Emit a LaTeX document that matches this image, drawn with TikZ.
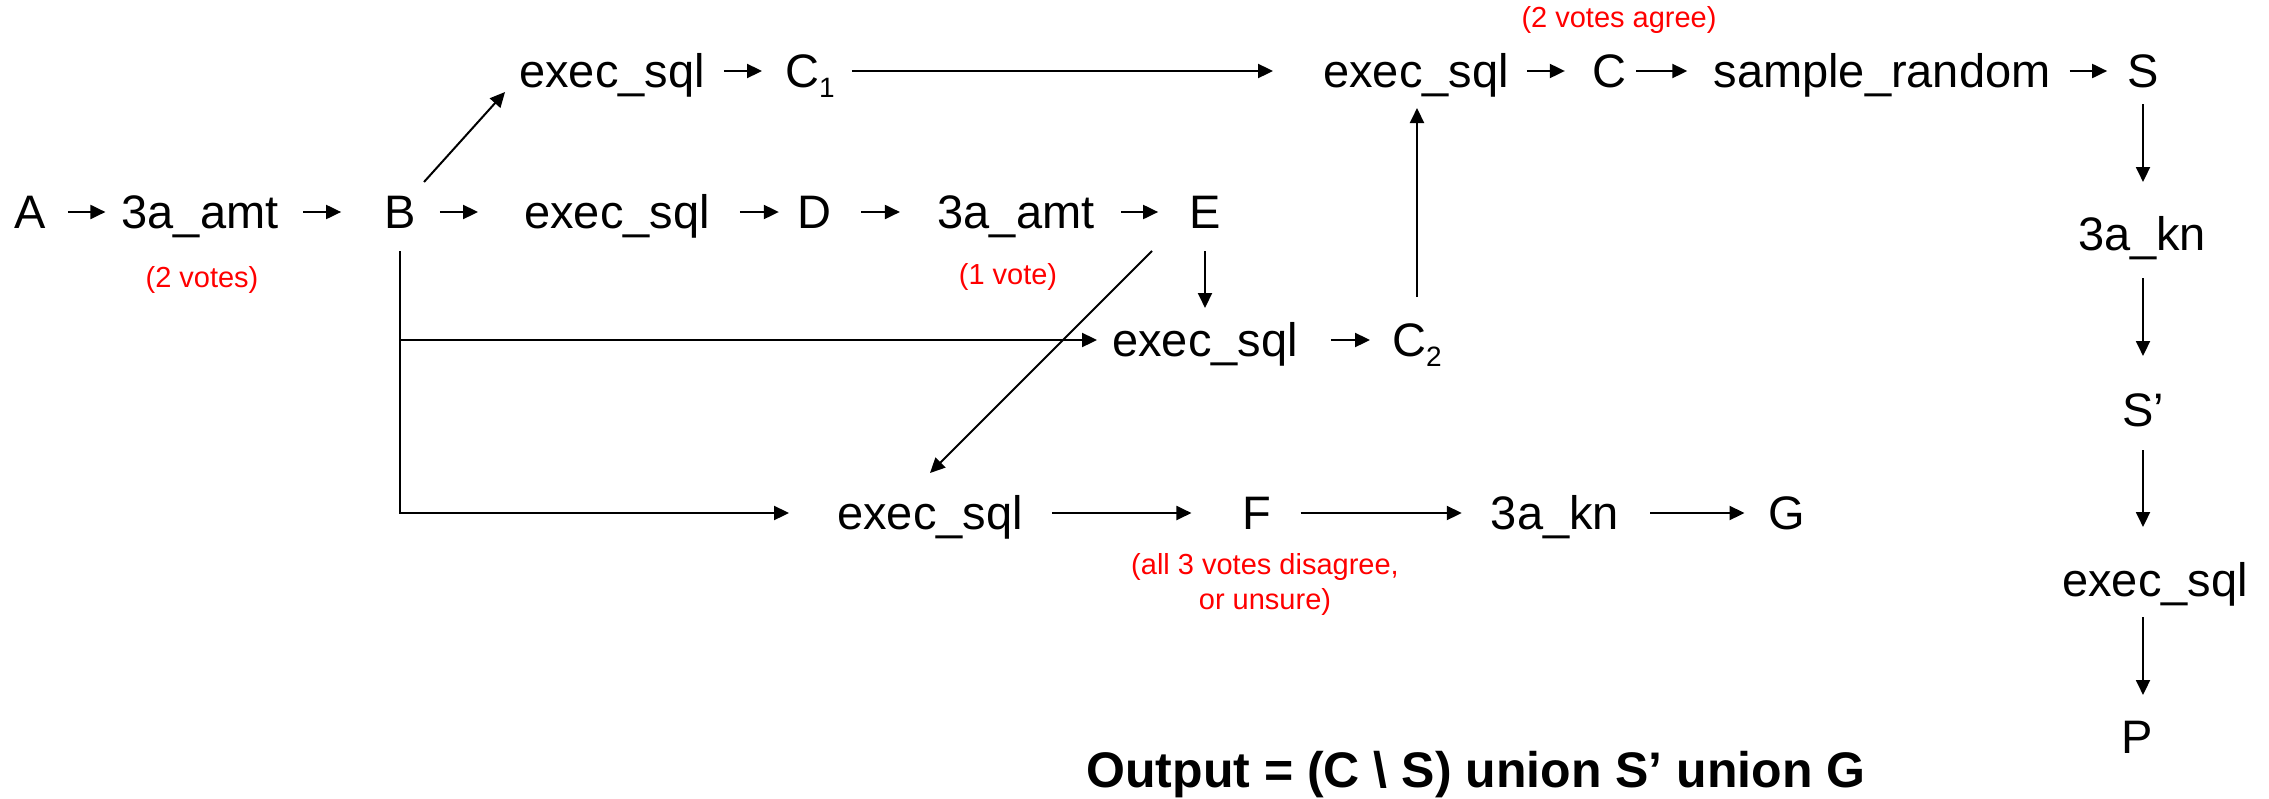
\documentclass[tikz,border=0pt]{standalone}
\usepackage{fontspec}
\setmainfont{Liberation Sans}
\usetikzlibrary{arrows.meta,calc}
\newcommand\subidx[1]{\raisebox{-10pt}{\fontsize{28}{28}\selectfont #1}}
\begin{document}
\begin{tikzpicture}[x=1pt,y=-1pt,
  lbl/.style={font=\fontsize{47}{56}\selectfont, inner sep=0pt, text height=33.6pt, text depth=0pt},
  note/.style={font=\fontsize{29}{35}\selectfont, text=red, inner sep=0pt, align=center},
  arr/.style={draw=black, line width=2pt, -{Triangle[length=15pt,width=14pt]}},
  ln/.style={draw=black, line width=2pt}]
\useasboundingbox (0,0) rectangle (2269,798);

% row 1
\node[lbl] (A) at (30,212) {A};
\node[lbl] (amtA) at (200,212) {3a\_amt};
\node[lbl] (B) at (400,212) {B};
\node[lbl] (exD) at (617,212) {exec\_sql};
\node[lbl] (D) at (814,212) {D};
\node[lbl] (amtE) at (1016,212) {3a\_amt};
\node[lbl] (E) at (1205,212) {E};
% top row
\node[lbl] (exC1) at (612,71) {exec\_sql};
\node[lbl] (C1) at (810,71) {C\subidx{1}};
\node[lbl] (exC) at (1416,71) {exec\_sql};
\node[lbl] (C) at (1609,71) {C};
\node[lbl] (samp) at (1882,71) {sample\_random};
\node[lbl] (S) at (2143,71) {S};
% right column
\node[lbl] (knS) at (2142,234) {3a\_kn};
\node[lbl] (Sp) at (2143,410) {S’};
\node[lbl] (exP) at (2155,580) {exec\_sql};
\node[lbl] (P) at (2137,737) {P};
% row 3
\node[lbl] (exC2) at (1205,340) {exec\_sql};
\node[lbl] (C2) at (1417,340) {C\subidx{2}};
% row 4
\node[lbl] (exF) at (930,513) {exec\_sql};
\node[lbl] (F) at (1257,513) {F};
\node[lbl] (knG) at (1555,513) {3a\_kn};
\node[lbl] (G) at (1787,513) {G};

% notes
\node[note] (n1) at (202,280) {(2 votes)};
\node[note] (n2) at (1008,277) {(1 vote)};
\node[note] (n3) at (1619,20) {(2 votes agree)};
\node[note] (n4) at (1265,584) {(all 3 votes disagree,\\or unsure)};

\node[font=\fontsize{50}{60}\selectfont\bfseries, inner sep=0pt, text height=35.8pt, text depth=0pt] (out) at (1476,770) {Output = (C \textbackslash{} S) union S’ union G};

% row 1 arrows
\draw[arr, shorten <=22pt, shorten >=16pt] (A.east) -- (amtA.west);
\draw[arr, shorten <=24.5pt, shorten >=43pt] (amtA.east) -- (B.west);
\draw[arr, shorten <=24pt, shorten >=46pt] (B.east) -- (exD.west);
\draw[arr, shorten <=30pt, shorten >=18pt] (exD.east) -- (D.west);
\draw[arr, shorten <=30pt, shorten >=37.5pt] (D.east) -- (amtE.west);
\draw[arr, shorten <=26.5pt, shorten >=31pt] (amtE.east) -- (E.west);
% top row arrows
\draw[arr] ([xshift=24pt,yshift=13pt]B.north) -- ([xshift=-14pt,yshift=-21pt]exC1.west);
\draw[arr, shorten <=19pt, shorten >=23pt] (exC1.east) -- (C1.west);
\draw[arr, shorten <=17pt, shorten >=50pt] (C1.east) -- (exC.west);
\draw[arr, shorten <=18pt, shorten >=27pt] (exC.east) -- (C.west);
\draw[arr, shorten <=10pt, shorten >=26pt] (C.east) -- (samp.west);
\draw[arr, shorten <=19pt, shorten >=20pt] (samp.east) -- (S.west);
% right column arrows
\draw[arr, shorten <=16pt, shorten >=35pt] (S.south) -- (S.south |- knS.north);
\draw[arr, shorten <=27pt, shorten >=37pt] (S.south |- knS.south) -- (S.south |- Sp.north);
\draw[arr, shorten <=23pt, shorten >=36pt] (S.south |- Sp.south) -- (S.south |- exP.north);
\draw[arr, shorten <=20pt, shorten >=25pt] (S.south |- exP.south) -- (S.south |- P.north);
% B branches
\draw[arr, shorten <=22pt, shorten >=15pt] (B.south) |- (exC2.west);
\draw[arr, shorten <=22pt, shorten >=48pt] (B.south) |- (exF.west);
% E connectors
\draw[arr, shorten <=22pt, shorten >=15pt] (E.south) -- (E.south |- exC2.north);
\draw[arr] ([xshift=-53pt,yshift=-22pt]E.south) -- ([yshift=23pt]exF.north);
% row 3
\draw[arr, shorten <=33pt, shorten >=22pt] (exC2.east) -- (C2.west);
\draw[arr, shorten <=26pt, shorten >=20pt] (C2.north) -- (C2.north |- exC.south);
% row 4
\draw[arr, shorten <=29pt, shorten >=51pt] (exF.east) -- (F.west);
\draw[arr, shorten <=29pt, shorten >=29pt] (F.east) -- (knG.west);
\draw[arr, shorten <=31pt, shorten >=24pt] (knG.east) -- (G.west);
\end{tikzpicture}
\end{document}
